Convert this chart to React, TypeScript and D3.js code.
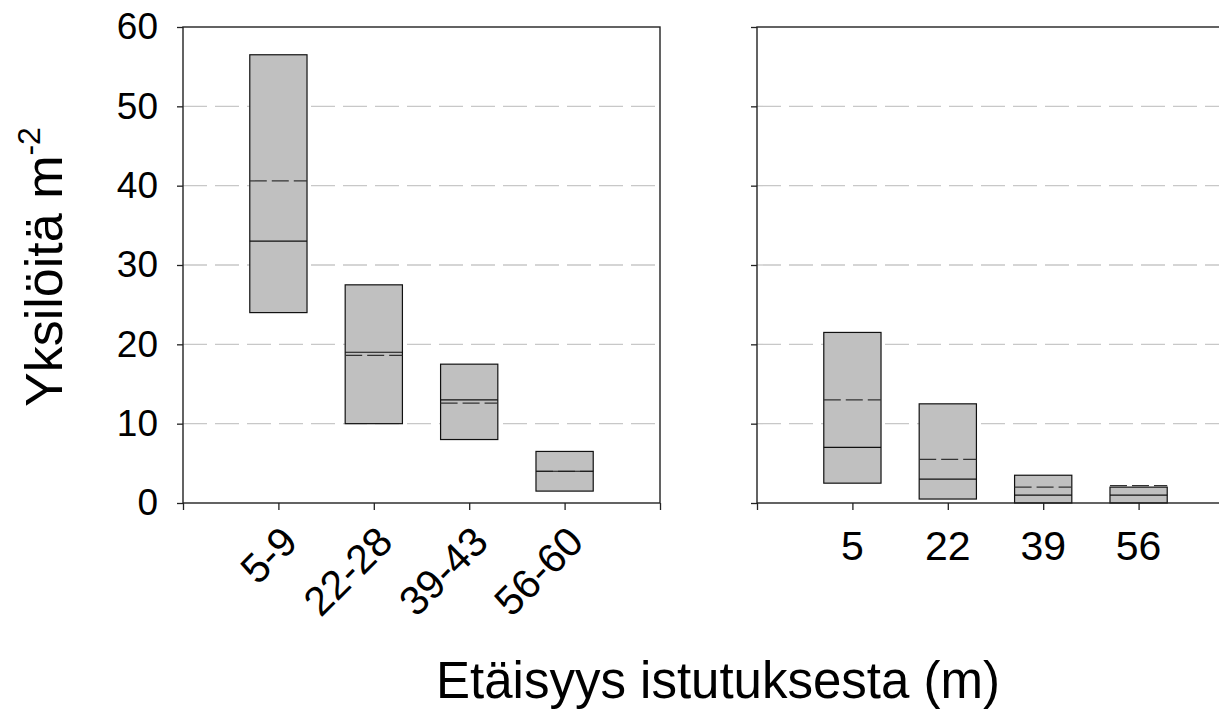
import { useEffect, useRef } from 'react';
import * as d3 from 'd3';

// left panel: distance classes (m)
const leftCategories = ['5-9', '22-28', '39-43', '56-60'];
const leftQ1 = [24, 10, 8, 1.5];
const leftQ3 = [56.5, 27.5, 17.5, 6.5];
const leftMedian = [33, 19, 13, 4];
const leftMean = [40.6, 18.6, 12.6, 4];

// right panel: single distances (m)
const rightCategories = ['5', '22', '39', '56'];
const rightQ1 = [2.5, 0.5, 0, 0];
const rightQ3 = [21.5, 12.5, 3.5, 2.0];
const rightMedian = [7, 3, 1, 1];
const rightMean = [13, 5.5, 2, 2.2];

const yTicks = [0, 10, 20, 30, 40, 50, 60];
const gridTicks = [10, 20, 30, 40, 50];

const FONT = "Arial, 'Liberation Sans', sans-serif";

interface Panel {
  categories: string[];
  q1: number[];
  q3: number[];
  median: number[];
  mean: number[];
  left: number;
  rotated: boolean;
  showLabels: boolean;
}

const panels: Panel[] = [
  { categories: leftCategories, q1: leftQ1, q3: leftQ3, median: leftMedian, mean: leftMean, left: 183, rotated: true, showLabels: true },
  { categories: rightCategories, q1: rightQ1, q3: rightQ3, median: rightMedian, mean: rightMean, left: 757, rotated: false, showLabels: false },
];

export default function App() {
  const svgRef = useRef<SVGSVGElement>(null);

  useEffect(() => {
    if (!svgRef.current) return;
    const svg = d3.select(svgRef.current);
    svg.selectAll('*').remove();

    const W = 1219;
    const H = 712;
    const top = 27;
    const bottom = 503;
    const panelW = 477;
    const boxHalf = 0.3;

    svg.attr('width', W).attr('height', H);

    const y = d3.scaleLinear().domain([0, 60]).range([bottom, top]);

    panels.forEach((p) => {
      const x = d3.scaleLinear().domain([0, 5]).range([p.left, p.left + panelW]);
      const g = svg.append('g');

      // dashed grid
      g.selectAll('.grid')
        .data(gridTicks)
        .enter()
        .append('line')
        .attr('x1', x(0))
        .attr('x2', x(5))
        .attr('y1', d => y(d))
        .attr('y2', d => y(d))
        .attr('stroke', '#c8c8c8')
        .attr('stroke-width', 1.3)
        .attr('stroke-dasharray', '24,8');

      const idx = d3.range(p.categories.length);

      // boxes
      g.selectAll('.box')
        .data(idx)
        .enter()
        .append('rect')
        .attr('x', i => x(i + 1 - boxHalf))
        .attr('width', x(1 + boxHalf) - x(1 - boxHalf))
        .attr('y', i => y(p.q3[i]))
        .attr('height', i => y(p.q1[i]) - y(p.q3[i]))
        .attr('fill', '#c0c0c0')
        .attr('stroke', '#111')
        .attr('stroke-width', 1.2);

      // mean (dashed)
      g.selectAll('.mean')
        .data(idx)
        .enter()
        .append('line')
        .attr('x1', i => x(i + 1 - boxHalf))
        .attr('x2', i => x(i + 1 + boxHalf))
        .attr('y1', i => y(p.mean[i]))
        .attr('y2', i => y(p.mean[i]))
        .attr('stroke', '#333')
        .attr('stroke-width', 1.2)
        .attr('stroke-dasharray', '17,5');

      // median (solid)
      g.selectAll('.median')
        .data(idx)
        .enter()
        .append('line')
        .attr('x1', i => x(i + 1 - boxHalf))
        .attr('x2', i => x(i + 1 + boxHalf))
        .attr('y1', i => y(p.median[i]))
        .attr('y2', i => y(p.median[i]))
        .attr('stroke', '#111')
        .attr('stroke-width', 1.2);

      // frame
      g.append('rect')
        .attr('x', x(0))
        .attr('y', y(60))
        .attr('width', x(5) - x(0))
        .attr('height', y(0) - y(60))
        .attr('fill', 'none')
        .attr('stroke', '#222')
        .attr('stroke-width', 1.4);

      // y axis ticks
      const yAxis = g.append('g')
        .attr('transform', `translate(${x(0)},0)`)
        .call(d3.axisLeft(y).tickValues(yTicks).tickSize(6).tickPadding(19));
      yAxis.select('.domain').remove();
      yAxis.selectAll('.tick line').attr('stroke', '#222').attr('stroke-width', 1.3);
      if (p.showLabels) {
        yAxis.selectAll('.tick text')
          .attr('fill', '#000')
          .attr('font-size', '37px')
          .attr('font-family', FONT);
      } else {
        yAxis.selectAll('.tick text').remove();
      }

      // x axis ticks
      const xAxis = g.append('g')
        .attr('transform', `translate(0,${y(0)})`)
        .call(d3.axisBottom(x).tickValues([0, 1, 2, 3, 4, 5]).tickSize(7).tickFormat(() => ''));
      xAxis.select('.domain').remove();
      xAxis.selectAll('.tick line').attr('stroke', '#222').attr('stroke-width', 1.3);

      // category labels
      const labels = g.selectAll('.cat')
        .data(idx)
        .enter()
        .append('text')
        .attr('font-family', FONT)
        .attr('fill', '#000')
        .text(i => p.categories[i]);

      if (p.rotated) {
        labels
          .attr('font-size', '41px')
          .attr('text-anchor', 'end')
          .attr('dy', '0.35em')
          .attr('transform', i => `translate(${x(i + 1) + 11},${y(0) + 31}) rotate(-45)`);
      } else {
        labels
          .attr('font-size', '41px')
          .attr('text-anchor', 'middle')
          .attr('x', i => x(i + 1))
          .attr('y', y(0) + 57);
      }
    });

    // axis titles
    const yTitle = svg.append('text')
      .attr('transform', `translate(62,${(top + bottom) / 2 + 2}) rotate(-90)`)
      .attr('text-anchor', 'middle')
      .attr('font-size', '52px')
      .attr('font-family', FONT)
      .attr('fill', '#000');
    yTitle.append('tspan').text('Yksilöitä m');
    yTitle.append('tspan')
      .attr('font-size', '32px')
      .attr('dy', '-22')
      .text('-2');

    svg.append('text')
      .attr('x', 718)
      .attr('y', 698)
      .attr('text-anchor', 'middle')
      .attr('font-size', '51px')
      .attr('font-family', FONT)
      .attr('fill', '#000')
      .text('Etäisyys istutuksesta (m)');
  }, []);

  return (
    <div style={{ position: 'absolute', left: 0, top: 0, width: 1219, height: 712, overflow: 'hidden', background: '#fff' }}>
      <svg ref={svgRef} style={{ display: 'block' }} />
    </div>
  );
}
